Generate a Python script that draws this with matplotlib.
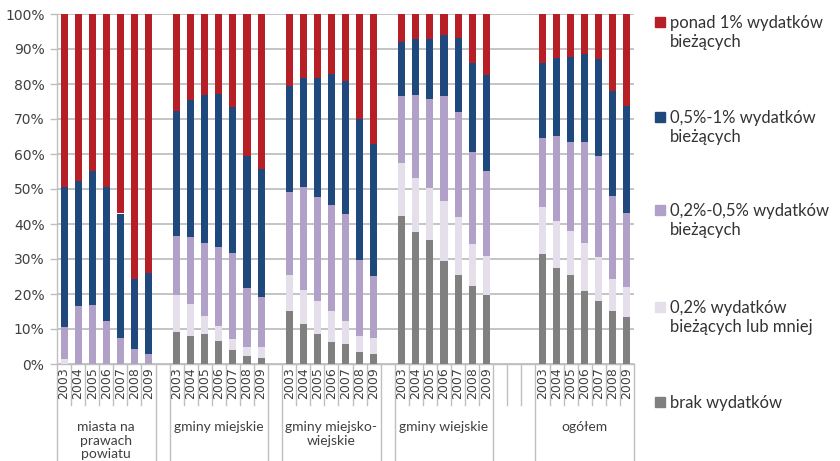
import matplotlib
matplotlib.use("Agg")
import matplotlib.pyplot as plt
from matplotlib.patches import Rectangle

plt.rcParams["font.family"] = ["Lato", "DejaVu Sans"]

# Categories
groups = ["miasta na\nprawach\npowiatu", "gminy miejskie", "gminy miejsko-\nwiejskie",
          "gminy wiejskie", "ogółem"]
years = ["2003", "2004", "2005", "2006", "2007", "2008", "2009"]

# Shares (%) per series, 7 years for each group in order
brak = [0, 0, 0, 0, 0, 0, 0,
        9.1, 8.0, 8.6, 6.7, 4.1, 2.4, 1.8,
        15.1, 11.5, 8.7, 6.4, 5.8, 3.5, 2.9,
        42.3, 37.7, 35.4, 29.4, 25.4, 22.3, 19.7,
        31.4, 27.4, 25.4, 20.9, 18.0, 15.1, 13.4]
do_02 = [1.4, 0, 0, 0, 0, 0, 0,
         10.7, 9.2, 5.2, 4.2, 3.0, 2.5, 3.1,
         10.3, 9.7, 9.3, 8.7, 6.5, 4.5, 4.5,
         15.1, 15.4, 14.9, 17.2, 16.6, 12.0, 11.2,
         13.5, 13.5, 12.6, 13.7, 12.6, 9.2, 8.6]
od_02_05 = [9.1, 16.7, 16.9, 12.3, 7.5, 4.3, 2.9,
            16.8, 19.1, 20.8, 22.5, 24.6, 16.9, 14.2,
            23.7, 29.4, 29.7, 30.3, 30.6, 21.7, 17.7,
            19.2, 23.8, 25.4, 30.0, 30.0, 26.3, 24.2,
            19.7, 24.2, 25.4, 28.8, 28.8, 23.7, 21.1]
od_05_1 = [40.0, 35.6, 38.2, 38.3, 35.5, 20.0, 23.1,
           35.7, 39.2, 42.3, 43.8, 41.7, 37.7, 36.6,
           30.3, 31.1, 34.0, 37.5, 38.0, 40.3, 37.8,
           15.4, 16.0, 17.2, 17.4, 21.1, 25.4, 27.5,
           21.4, 22.3, 24.3, 25.2, 27.7, 30.0, 30.6]
ponad_1 = [49.5, 47.7, 44.9, 49.4, 57.0, 75.7, 74.0,
           27.7, 24.5, 23.1, 22.8, 26.6, 40.5, 44.3,
           20.6, 18.3, 18.3, 17.1, 19.1, 30.0, 37.1,
           8.0, 7.1, 7.1, 6.0, 6.9, 14.0, 17.4,
           14.0, 12.6, 12.3, 11.4, 12.9, 22.0, 26.3]

series = [
    (brak, "#808080", "brak wydatków"),
    (do_02, "#E5DFEC", "0,2% wydatków\nbieżących lub mniej"),
    (od_02_05, "#B1A0C7", "0,2%-0,5% wydatków\nbieżących"),
    (od_05_1, "#1F497D", "0,5%-1% wydatków\nbieżących"),
    (ponad_1, "#B71F26", "ponad 1% wydatków\nbieżących"),
]

# Slot index of the first year in each group; empty slots separate groups
group_start = [0, 8, 16, 24, 34]
blank_slots = [[7], [15], [23], [31, 32, 33]]
n_slots = 41

x = []
for s in group_start:
    x.extend(range(s, s + len(years)))

fig = plt.figure(figsize=(8.4, 4.61), dpi=100)
ax = fig.add_axes([57 / 840, 97 / 461, 577 / 840, 350 / 461])

bottom = [0.0] * len(x)
for vals, color, label in series:
    ax.bar(x, vals, width=0.5, bottom=bottom, color=color, linewidth=0, zorder=3)
    bottom = [b + v for b, v in zip(bottom, vals)]

ax.set_xlim(-0.5, n_slots - 0.5)
ax.set_ylim(0, 100)
ax.set_yticks(range(0, 101, 10))
ax.set_yticklabels([f"{v}%" for v in range(0, 101, 10)], family="DejaVu Sans",
                   fontsize=10, color="#404040")
ax.tick_params(axis="y", length=5, width=1, color="#BFBFBF", pad=4)
ax.set_xticks([])
ax.grid(axis="y", color="#BFBFBF", linewidth=1.3, zorder=0)
for side in ["top", "right"]:
    ax.spines[side].set_visible(False)
for side in ["left", "bottom"]:
    ax.spines[side].set_color("#BFBFBF")
    ax.spines[side].set_linewidth(1)

# Two-level category axis
tr = ax.get_xaxis_transform()
short_y = -41 / 350
long_y = -97 / 350
line_kw = dict(color="#BFBFBF", linewidth=1, transform=tr, clip_on=False)

for gi, s in enumerate(group_start):
    for k, yr in enumerate(years):
        ax.text(s + k, -0.008, yr, rotation=90, ha="center", va="top",
                fontsize=9, family="DejaVu Sans", color="#404040",
                transform=tr, clip_on=False)
    for k in range(1, len(years)):
        ax.plot([s + k - 0.5] * 2, [0, short_y], **line_kw)
    left, right = s - 0.5, s + len(years) - 0.5
    ax.plot([left] * 2, [0, long_y], **line_kw)
    ax.plot([right] * 2, [0, long_y], **line_kw)
    ax.text((left + right) / 2, -57 / 350, groups[gi], ha="center", va="top",
            fontsize=10, color="#404040", linespacing=1.15,
            transform=tr, clip_on=False)

for slots in blank_slots:
    for s in slots[1:]:
        ax.plot([s - 0.5] * 2, [0, short_y], **line_kw)

# Legend on the right
leg_y = [402, 307, 210, 117, 22]
for (vals, color, label), yp in zip(series, leg_y):
    fig.patches.append(Rectangle((655 / 840, 1 - (yp + 5) / 461), 10 / 840, 10 / 461,
                                 transform=fig.transFigure, color=color))
    fig.text(670 / 840, 1 - (yp - 7) / 461, label, ha="left", va="top",
             fontsize=12, color="#333333", linespacing=1.25)

fig.savefig("out.png", dpi=100)
